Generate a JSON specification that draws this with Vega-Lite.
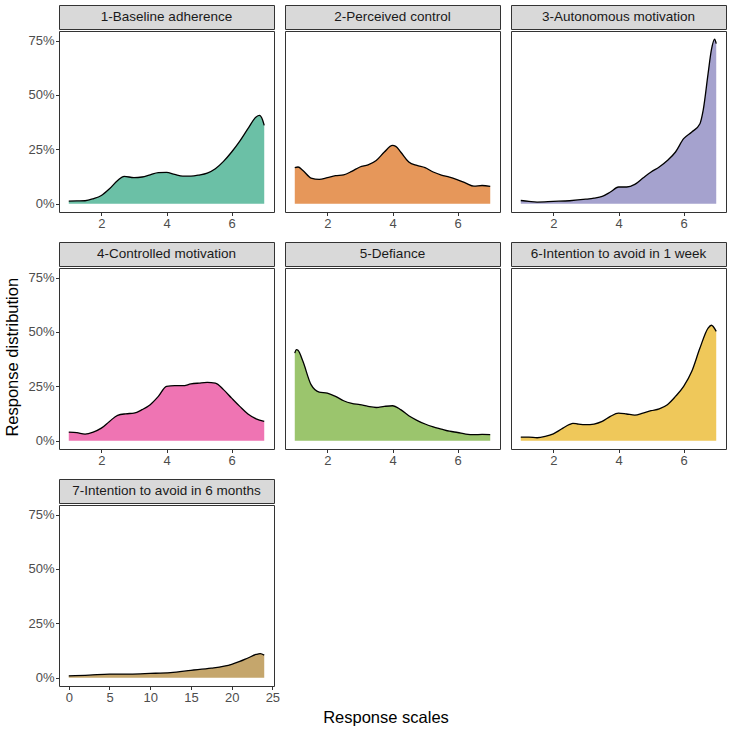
{
  "$schema": "https://vega.github.io/schema/vega-lite/v6.json",
  "padding": {"left": 4, "top": 4, "right": 3, "bottom": 2},
  "config": {
    "font": "Liberation Sans",
    "view": {"stroke": "#333333", "strokeWidth": 1},
    "axis": {"labelFontSize": 13, "labelColor": "#4D4D4D", "tickColor": "#333333", "tickSize": 3.5, "tickWidth": 1, "domain": false, "grid": false, "labelPadding": 1.5, "title": null, "labelFlush": false}
  },
  "title": {"text": "Response distribution", "orient": "left", "anchor": "middle", "frame": "bounds", "fontSize": 16.5, "fontWeight": "normal", "color": "#000000", "offset": 6, "dx": 8},
  "datasets": {
    "dens": [
      {"panel": 1, "score": 1.0, "density": 0.012}, {"panel": 1, "score": 1.25, "density": 0.013}, {"panel": 1, "score": 1.5, "density": 0.014}, {"panel": 1, "score": 1.75, "density": 0.023}, {"panel": 1, "score": 2.0, "density": 0.038}, {"panel": 1, "score": 2.25, "density": 0.069}, {"panel": 1, "score": 2.5, "density": 0.107}, {"panel": 1, "score": 2.7, "density": 0.126}, {"panel": 1, "score": 3.0, "density": 0.12}, {"panel": 1, "score": 3.25, "density": 0.123}, {"panel": 1, "score": 3.5, "density": 0.133}, {"panel": 1, "score": 3.75, "density": 0.143}, {"panel": 1, "score": 4.0, "density": 0.144}, {"panel": 1, "score": 4.25, "density": 0.135}, {"panel": 1, "score": 4.5, "density": 0.127}, {"panel": 1, "score": 4.75, "density": 0.127}, {"panel": 1, "score": 5.0, "density": 0.132}, {"panel": 1, "score": 5.25, "density": 0.141}, {"panel": 1, "score": 5.5, "density": 0.161}, {"panel": 1, "score": 5.75, "density": 0.195}, {"panel": 1, "score": 6.0, "density": 0.238}, {"panel": 1, "score": 6.25, "density": 0.288}, {"panel": 1, "score": 6.5, "density": 0.345}, {"panel": 1, "score": 6.75, "density": 0.399}, {"panel": 1, "score": 6.85, "density": 0.406}, {"panel": 1, "score": 6.95, "density": 0.385}, {"panel": 1, "score": 7.0, "density": 0.36},
      {"panel": 2, "score": 1.0, "density": 0.166}, {"panel": 2, "score": 1.1, "density": 0.169}, {"panel": 2, "score": 1.25, "density": 0.153}, {"panel": 2, "score": 1.5, "density": 0.118}, {"panel": 2, "score": 1.75, "density": 0.112}, {"panel": 2, "score": 2.0, "density": 0.12}, {"panel": 2, "score": 2.25, "density": 0.129}, {"panel": 2, "score": 2.5, "density": 0.133}, {"panel": 2, "score": 2.75, "density": 0.149}, {"panel": 2, "score": 3.0, "density": 0.169}, {"panel": 2, "score": 3.25, "density": 0.179}, {"panel": 2, "score": 3.5, "density": 0.199}, {"panel": 2, "score": 3.75, "density": 0.238}, {"panel": 2, "score": 4.0, "density": 0.268}, {"panel": 2, "score": 4.1, "density": 0.264}, {"panel": 2, "score": 4.25, "density": 0.238}, {"panel": 2, "score": 4.5, "density": 0.192}, {"panel": 2, "score": 4.75, "density": 0.176}, {"panel": 2, "score": 5.0, "density": 0.166}, {"panel": 2, "score": 5.25, "density": 0.146}, {"panel": 2, "score": 5.5, "density": 0.132}, {"panel": 2, "score": 5.75, "density": 0.123}, {"panel": 2, "score": 6.0, "density": 0.11}, {"panel": 2, "score": 6.25, "density": 0.095}, {"panel": 2, "score": 6.5, "density": 0.081}, {"panel": 2, "score": 6.75, "density": 0.084}, {"panel": 2, "score": 7.0, "density": 0.08},
      {"panel": 3, "score": 1.0, "density": 0.015}, {"panel": 3, "score": 1.25, "density": 0.011}, {"panel": 3, "score": 1.5, "density": 0.008}, {"panel": 3, "score": 2.0, "density": 0.011}, {"panel": 3, "score": 2.5, "density": 0.014}, {"panel": 3, "score": 3.0, "density": 0.021}, {"panel": 3, "score": 3.25, "density": 0.026}, {"panel": 3, "score": 3.5, "density": 0.034}, {"panel": 3, "score": 3.75, "density": 0.054}, {"panel": 3, "score": 4.0, "density": 0.077}, {"panel": 3, "score": 4.25, "density": 0.077}, {"panel": 3, "score": 4.5, "density": 0.089}, {"panel": 3, "score": 4.75, "density": 0.118}, {"panel": 3, "score": 5.0, "density": 0.146}, {"panel": 3, "score": 5.25, "density": 0.169}, {"panel": 3, "score": 5.5, "density": 0.199}, {"panel": 3, "score": 5.75, "density": 0.238}, {"panel": 3, "score": 6.0, "density": 0.299}, {"panel": 3, "score": 6.25, "density": 0.33}, {"panel": 3, "score": 6.5, "density": 0.368}, {"panel": 3, "score": 6.6, "density": 0.43}, {"panel": 3, "score": 6.75, "density": 0.598}, {"panel": 3, "score": 6.85, "density": 0.706}, {"panel": 3, "score": 6.95, "density": 0.756}, {"panel": 3, "score": 7.0, "density": 0.736},
      {"panel": 4, "score": 1.0, "density": 0.04}, {"panel": 4, "score": 1.25, "density": 0.037}, {"panel": 4, "score": 1.5, "density": 0.031}, {"panel": 4, "score": 1.75, "density": 0.04}, {"panel": 4, "score": 2.0, "density": 0.058}, {"panel": 4, "score": 2.25, "density": 0.089}, {"panel": 4, "score": 2.5, "density": 0.117}, {"panel": 4, "score": 2.75, "density": 0.124}, {"panel": 4, "score": 3.0, "density": 0.127}, {"panel": 4, "score": 3.25, "density": 0.143}, {"panel": 4, "score": 3.5, "density": 0.166}, {"panel": 4, "score": 3.75, "density": 0.204}, {"panel": 4, "score": 4.0, "density": 0.25}, {"panel": 4, "score": 4.25, "density": 0.253}, {"panel": 4, "score": 4.5, "density": 0.253}, {"panel": 4, "score": 4.75, "density": 0.261}, {"panel": 4, "score": 5.0, "density": 0.265}, {"panel": 4, "score": 5.25, "density": 0.268}, {"panel": 4, "score": 5.5, "density": 0.265}, {"panel": 4, "score": 5.75, "density": 0.235}, {"panel": 4, "score": 6.0, "density": 0.196}, {"panel": 4, "score": 6.25, "density": 0.158}, {"panel": 4, "score": 6.5, "density": 0.123}, {"panel": 4, "score": 6.75, "density": 0.101}, {"panel": 4, "score": 7.0, "density": 0.089},
      {"panel": 5, "score": 1.0, "density": 0.403}, {"panel": 5, "score": 1.05, "density": 0.419}, {"panel": 5, "score": 1.1, "density": 0.416}, {"panel": 5, "score": 1.25, "density": 0.365}, {"panel": 5, "score": 1.5, "density": 0.258}, {"panel": 5, "score": 1.75, "density": 0.224}, {"panel": 5, "score": 2.0, "density": 0.219}, {"panel": 5, "score": 2.25, "density": 0.204}, {"panel": 5, "score": 2.5, "density": 0.184}, {"panel": 5, "score": 2.75, "density": 0.172}, {"panel": 5, "score": 3.0, "density": 0.166}, {"panel": 5, "score": 3.25, "density": 0.158}, {"panel": 5, "score": 3.5, "density": 0.153}, {"panel": 5, "score": 3.75, "density": 0.158}, {"panel": 5, "score": 4.0, "density": 0.161}, {"panel": 5, "score": 4.25, "density": 0.143}, {"panel": 5, "score": 4.5, "density": 0.115}, {"panel": 5, "score": 4.75, "density": 0.094}, {"panel": 5, "score": 5.0, "density": 0.077}, {"panel": 5, "score": 5.25, "density": 0.064}, {"panel": 5, "score": 5.5, "density": 0.054}, {"panel": 5, "score": 5.75, "density": 0.044}, {"panel": 5, "score": 6.0, "density": 0.038}, {"panel": 5, "score": 6.25, "density": 0.031}, {"panel": 5, "score": 6.5, "density": 0.028}, {"panel": 5, "score": 6.75, "density": 0.029}, {"panel": 5, "score": 7.0, "density": 0.028},
      {"panel": 6, "score": 1.0, "density": 0.017}, {"panel": 6, "score": 1.25, "density": 0.017}, {"panel": 6, "score": 1.5, "density": 0.014}, {"panel": 6, "score": 1.75, "density": 0.02}, {"panel": 6, "score": 2.0, "density": 0.032}, {"panel": 6, "score": 2.25, "density": 0.054}, {"panel": 6, "score": 2.5, "density": 0.075}, {"panel": 6, "score": 2.6, "density": 0.08}, {"panel": 6, "score": 2.75, "density": 0.077}, {"panel": 6, "score": 3.0, "density": 0.074}, {"panel": 6, "score": 3.25, "density": 0.077}, {"panel": 6, "score": 3.5, "density": 0.089}, {"panel": 6, "score": 3.75, "density": 0.112}, {"panel": 6, "score": 4.0, "density": 0.127}, {"panel": 6, "score": 4.25, "density": 0.123}, {"panel": 6, "score": 4.5, "density": 0.118}, {"panel": 6, "score": 4.75, "density": 0.127}, {"panel": 6, "score": 5.0, "density": 0.138}, {"panel": 6, "score": 5.25, "density": 0.147}, {"panel": 6, "score": 5.5, "density": 0.166}, {"panel": 6, "score": 5.75, "density": 0.204}, {"panel": 6, "score": 6.0, "density": 0.25}, {"panel": 6, "score": 6.25, "density": 0.319}, {"panel": 6, "score": 6.5, "density": 0.426}, {"panel": 6, "score": 6.75, "density": 0.518}, {"panel": 6, "score": 6.85, "density": 0.531}, {"panel": 6, "score": 7.0, "density": 0.503},
      {"panel": 7, "score": 0, "density": 0.009}, {"panel": 7, "score": 2.5, "density": 0.012}, {"panel": 7, "score": 5, "density": 0.017}, {"panel": 7, "score": 7.5, "density": 0.017}, {"panel": 7, "score": 10, "density": 0.02}, {"panel": 7, "score": 12.5, "density": 0.024}, {"panel": 7, "score": 15, "density": 0.034}, {"panel": 7, "score": 17.5, "density": 0.044}, {"panel": 7, "score": 20, "density": 0.062}, {"panel": 7, "score": 21, "density": 0.075}, {"panel": 7, "score": 22, "density": 0.091}, {"panel": 7, "score": 23, "density": 0.107}, {"panel": 7, "score": 23.5, "density": 0.111}, {"panel": 7, "score": 24, "density": 0.104}
    ]
  },
  "vconcat": [
    {
      "title": {"text": "Response scales", "orient": "bottom", "anchor": "middle", "frame": "bounds", "fontSize": 16.5, "fontWeight": "normal", "color": "#000000", "offset": 5, "dx": 9},
      "spacing": 10,
      "vconcat": [
        {
          "spacing": 9,
          "hconcat": [
            {"spacing": 0, "vconcat": [
              {"width": 215, "height": 24, "data": {"values": [{"label": "1-Baseline adherence"}]}, "view": {"fill": "#D9D9D9", "stroke": "#333333"}, "mark": {"type": "text", "fontSize": 13.5, "color": "#1A1A1A"}, "encoding": {"text": {"field": "label"}}},
              {"width": 215, "height": 181, "data": {"name": "dens"}, "transform": [{"filter": "datum.panel == 1"}],
               "encoding": {"x": {"field": "score", "type": "quantitative", "scale": {"domain": [0.7, 7.3], "nice": false, "zero": false}, "axis": {"values": [2, 4, 6]}}, "y": {"field": "density", "type": "quantitative", "scale": {"domain": [-0.0378, 0.794], "nice": false, "zero": false}, "axis": {"values": [0, 0.25, 0.5, 0.75], "format": ".0%"}}},
               "layer": [
                 {"mark": {"type": "area", "color": "#1B9E77", "fillOpacity": 0.65, "interpolate": "monotone"}, "encoding": {"y2": {"datum": 0}}},
                 {"mark": {"type": "line", "color": "#000000", "strokeWidth": 1.3, "interpolate": "monotone"}, "encoding": {}}
               ]}
            ]},
            {"spacing": 0, "vconcat": [
              {"width": 215, "height": 24, "data": {"values": [{"label": "2-Perceived control"}]}, "view": {"fill": "#D9D9D9", "stroke": "#333333"}, "mark": {"type": "text", "fontSize": 13.5, "color": "#1A1A1A"}, "encoding": {"text": {"field": "label"}}},
              {"width": 215, "height": 181, "data": {"name": "dens"}, "transform": [{"filter": "datum.panel == 2"}],
               "encoding": {"x": {"field": "score", "type": "quantitative", "scale": {"domain": [0.7, 7.3], "nice": false, "zero": false}, "axis": {"values": [2, 4, 6]}}, "y": {"field": "density", "type": "quantitative", "scale": {"domain": [-0.0378, 0.794], "nice": false, "zero": false}, "axis": null}},
               "layer": [
                 {"mark": {"type": "area", "color": "#D95F02", "fillOpacity": 0.65, "interpolate": "monotone"}, "encoding": {"y2": {"datum": 0}}},
                 {"mark": {"type": "line", "color": "#000000", "strokeWidth": 1.3, "interpolate": "monotone"}, "encoding": {}}
               ]}
            ]},
            {"spacing": 0, "vconcat": [
              {"width": 215, "height": 24, "data": {"values": [{"label": "3-Autonomous motivation"}]}, "view": {"fill": "#D9D9D9", "stroke": "#333333"}, "mark": {"type": "text", "fontSize": 13.5, "color": "#1A1A1A"}, "encoding": {"text": {"field": "label"}}},
              {"width": 215, "height": 181, "data": {"name": "dens"}, "transform": [{"filter": "datum.panel == 3"}],
               "encoding": {"x": {"field": "score", "type": "quantitative", "scale": {"domain": [0.7, 7.3], "nice": false, "zero": false}, "axis": {"values": [2, 4, 6]}}, "y": {"field": "density", "type": "quantitative", "scale": {"domain": [-0.0378, 0.794], "nice": false, "zero": false}, "axis": null}},
               "layer": [
                 {"mark": {"type": "area", "color": "#7570B3", "fillOpacity": 0.65, "interpolate": "monotone"}, "encoding": {"y2": {"datum": 0}}},
                 {"mark": {"type": "line", "color": "#000000", "strokeWidth": 1.3, "interpolate": "monotone"}, "encoding": {}}
               ]}
            ]}
          ]
        },
        {
          "spacing": 9,
          "hconcat": [
            {"spacing": 0, "vconcat": [
              {"width": 215, "height": 24, "data": {"values": [{"label": "4-Controlled motivation"}]}, "view": {"fill": "#D9D9D9", "stroke": "#333333"}, "mark": {"type": "text", "fontSize": 13.5, "color": "#1A1A1A"}, "encoding": {"text": {"field": "label"}}},
              {"width": 215, "height": 181, "data": {"name": "dens"}, "transform": [{"filter": "datum.panel == 4"}],
               "encoding": {"x": {"field": "score", "type": "quantitative", "scale": {"domain": [0.7, 7.3], "nice": false, "zero": false}, "axis": {"values": [2, 4, 6]}}, "y": {"field": "density", "type": "quantitative", "scale": {"domain": [-0.0378, 0.794], "nice": false, "zero": false}, "axis": {"values": [0, 0.25, 0.5, 0.75], "format": ".0%"}}},
               "layer": [
                 {"mark": {"type": "area", "color": "#E7298A", "fillOpacity": 0.65, "interpolate": "monotone"}, "encoding": {"y2": {"datum": 0}}},
                 {"mark": {"type": "line", "color": "#000000", "strokeWidth": 1.3, "interpolate": "monotone"}, "encoding": {}}
               ]}
            ]},
            {"spacing": 0, "vconcat": [
              {"width": 215, "height": 24, "data": {"values": [{"label": "5-Defiance"}]}, "view": {"fill": "#D9D9D9", "stroke": "#333333"}, "mark": {"type": "text", "fontSize": 13.5, "color": "#1A1A1A"}, "encoding": {"text": {"field": "label"}}},
              {"width": 215, "height": 181, "data": {"name": "dens"}, "transform": [{"filter": "datum.panel == 5"}],
               "encoding": {"x": {"field": "score", "type": "quantitative", "scale": {"domain": [0.7, 7.3], "nice": false, "zero": false}, "axis": {"values": [2, 4, 6]}}, "y": {"field": "density", "type": "quantitative", "scale": {"domain": [-0.0378, 0.794], "nice": false, "zero": false}, "axis": null}},
               "layer": [
                 {"mark": {"type": "area", "color": "#66A61E", "fillOpacity": 0.65, "interpolate": "monotone"}, "encoding": {"y2": {"datum": 0}}},
                 {"mark": {"type": "line", "color": "#000000", "strokeWidth": 1.3, "interpolate": "monotone"}, "encoding": {}}
               ]}
            ]},
            {"spacing": 0, "vconcat": [
              {"width": 215, "height": 24, "data": {"values": [{"label": "6-Intention to avoid in 1 week"}]}, "view": {"fill": "#D9D9D9", "stroke": "#333333"}, "mark": {"type": "text", "fontSize": 13.5, "color": "#1A1A1A"}, "encoding": {"text": {"field": "label"}}},
              {"width": 215, "height": 181, "data": {"name": "dens"}, "transform": [{"filter": "datum.panel == 6"}],
               "encoding": {"x": {"field": "score", "type": "quantitative", "scale": {"domain": [0.7, 7.3], "nice": false, "zero": false}, "axis": {"values": [2, 4, 6]}}, "y": {"field": "density", "type": "quantitative", "scale": {"domain": [-0.0378, 0.794], "nice": false, "zero": false}, "axis": null}},
               "layer": [
                 {"mark": {"type": "area", "color": "#E6AB02", "fillOpacity": 0.65, "interpolate": "monotone"}, "encoding": {"y2": {"datum": 0}}},
                 {"mark": {"type": "line", "color": "#000000", "strokeWidth": 1.3, "interpolate": "monotone"}, "encoding": {}}
               ]}
            ]}
          ]
        },
        {
          "spacing": 9,
          "hconcat": [
            {"spacing": 0, "vconcat": [
              {"width": 215, "height": 24, "data": {"values": [{"label": "7-Intention to avoid in 6 months"}]}, "view": {"fill": "#D9D9D9", "stroke": "#333333"}, "mark": {"type": "text", "fontSize": 13.5, "color": "#1A1A1A"}, "encoding": {"text": {"field": "label"}}},
              {"width": 215, "height": 181, "data": {"name": "dens"}, "transform": [{"filter": "datum.panel == 7"}],
               "encoding": {"x": {"field": "score", "type": "quantitative", "scale": {"domain": [-1.2, 25.2], "nice": false, "zero": false}, "axis": {"values": [0, 5, 10, 15, 20, 25]}}, "y": {"field": "density", "type": "quantitative", "scale": {"domain": [-0.0378, 0.794], "nice": false, "zero": false}, "axis": {"values": [0, 0.25, 0.5, 0.75], "format": ".0%"}}},
               "layer": [
                 {"mark": {"type": "area", "color": "#A6761D", "fillOpacity": 0.65, "interpolate": "monotone"}, "encoding": {"y2": {"datum": 0}}},
                 {"mark": {"type": "line", "color": "#000000", "strokeWidth": 1.3, "interpolate": "monotone"}, "encoding": {}}
               ]}
            ]}
          ]
        }
      ]
    }
  ]
}
